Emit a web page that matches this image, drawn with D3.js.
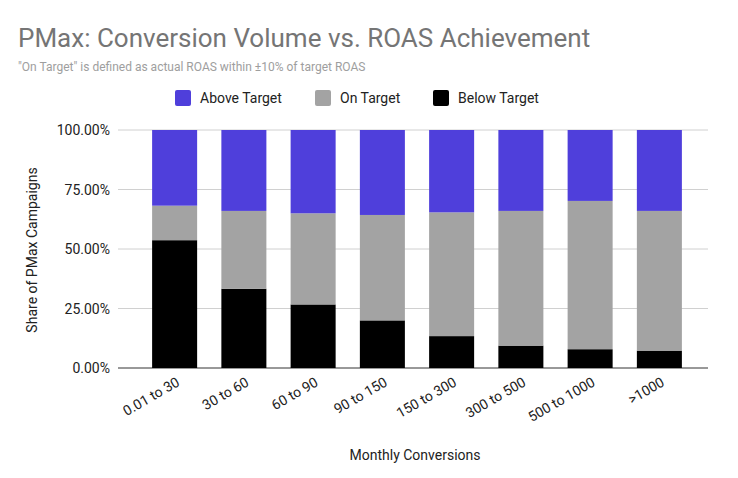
<!DOCTYPE html><html><head><meta charset="utf-8"><script src="https://cdn.jsdelivr.net/npm/d3@7"></script>
<style>body{margin:0;background:#fff}text{font-family:Roboto,Arial,sans-serif}</style></head><body><svg id="c" width="738" height="478"></svg>
<script>
const categories=["0.01 to 30","30 to 60","60 to 90","90 to 150","150 to 300","300 to 500","500 to 1000",">1000"];
const below=[53.7,33.3,26.7,20.0,13.4,9.4,7.9,7.3];
const onTarget=[14.5,32.7,38.3,44.3,52.0,56.6,62.3,58.7];
const above=below.map((b,i)=>100-b-onTarget[i]);
const yTicks=[0,25,50,75,100];
const series=[{name:"Below Target",vals:below,color:"#000000"},{name:"On Target",vals:onTarget,color:"#a3a3a3"},{name:"Above Target",vals:above,color:"#4f3fdb"}];
const svg=d3.select("#c");
const x=d3.scaleBand().domain(categories).range([140,694]).paddingInner(0.35).paddingOuter(0.175);
const y=d3.scaleLinear().domain([0,100]).range([368,130]);
svg.append("text").attr("x",18).attr("y",47).attr("font-size",26).attr("fill","#757575").text("PMax: Conversion Volume vs. ROAS Achievement");
svg.append("text").attr("x",18).attr("y",71).attr("font-size",12).attr("fill","#9e9e9e").text("\"On Target\" is defined as actual ROAS within ±10% of target ROAS");
svg.selectAll(".g").data(yTicks).join("line").attr("x1",118).attr("x2",708).attr("y1",d=>y(d)).attr("y2",d=>y(d)).attr("stroke",d=>d===0?"#333":"#d0d0d0");
svg.selectAll(".yl").data(yTicks).join("text").attr("x",110).attr("y",d=>y(d)+5).attr("text-anchor","end").attr("font-size",14).attr("fill","#222").text(d=>d.toFixed(2)+"%");
categories.forEach((c,i)=>{let base=0;series.forEach(s=>{const v=s.vals[i];
svg.append("rect").attr("x",x(c)).attr("width",x.bandwidth()).attr("y",y(base+v)).attr("height",y(base)-y(base+v)).attr("fill",s.color);base+=v;});});
svg.selectAll(".xl").data(categories).join("text").attr("font-size",14).attr("fill","#222").attr("text-anchor","end")
 .attr("transform",d=>`translate(${x(d)+x.bandwidth()/2+6},${385}) rotate(-30)`).text(d=>d);
svg.append("text").attr("x",415).attr("y",460).attr("text-anchor","middle").attr("font-size",14).attr("fill","#222").text("Monthly Conversions");
svg.append("text").attr("transform","translate(37,250) rotate(-90)").attr("text-anchor","middle").attr("font-size",14).attr("fill","#222").text("Share of PMax Campaigns");
const leg=[{n:"Above Target",c:"#4f3fdb",x:175},{n:"On Target",c:"#a3a3a3",x:315},{n:"Below Target",c:"#000",x:433}];
leg.forEach(l=>{svg.append("rect").attr("x",l.x).attr("y",90).attr("width",16).attr("height",16).attr("rx",2).attr("fill",l.c);
svg.append("text").attr("x",l.x+25).attr("y",103).attr("font-size",14).attr("fill","#222").text(l.n);});
</script></body></html>
